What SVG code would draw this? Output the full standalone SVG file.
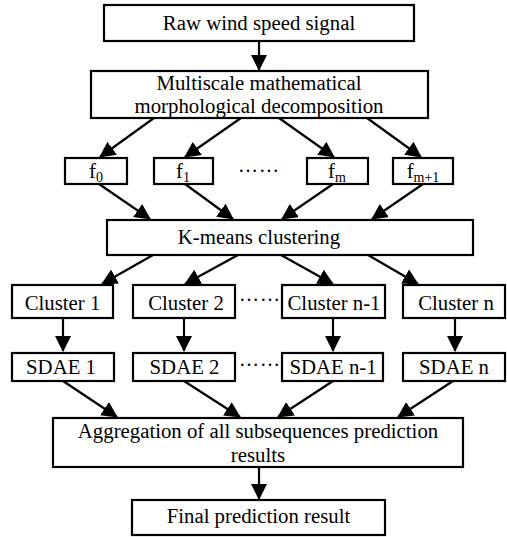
<svg xmlns="http://www.w3.org/2000/svg" width="507" height="537" viewBox="0 0 507 537">
  <style>
    .box { fill: #fff; stroke: #000; stroke-width: 2.2; }
    .lbl { font-family: "Liberation Serif", "Times New Roman", serif; font-size: 20.8px; fill: #000; text-anchor: middle; }
    .sub { font-size: 14px; }
    .dots { font-family: "Liberation Serif", serif; font-size: 20px; fill: #000; letter-spacing: 1px; }
    .edge { stroke: #000; stroke-width: 2.2; fill: none; marker-end: url(#arrow); }
  </style>
  <defs>
    <marker id="arrow" markerUnits="userSpaceOnUse" markerWidth="16" markerHeight="16" viewBox="0 0 16 16" refX="15" refY="8" orient="auto">
      <path d="M0,0 L16,8 L0,16 z" fill="#000"/>
    </marker>
  </defs>

  <rect width="507" height="537" fill="#fff"/>

  <g id="connectors">
    <line class="edge" x1="259" y1="41" x2="259" y2="70"/>
    <line class="edge" x1="154" y1="118" x2="100" y2="157"/>
    <line class="edge" x1="241" y1="118" x2="185" y2="157"/>
    <line class="edge" x1="279" y1="118" x2="334" y2="157"/>
    <line class="edge" x1="367" y1="118" x2="421" y2="157"/>
    <line class="edge" x1="99" y1="184" x2="150" y2="219"/>
    <line class="edge" x1="185" y1="184" x2="233" y2="219"/>
    <line class="edge" x1="333" y1="184" x2="282" y2="219"/>
    <line class="edge" x1="423" y1="184" x2="372" y2="219"/>
    <line class="edge" x1="153" y1="255" x2="102" y2="284"/>
    <line class="edge" x1="238" y1="255" x2="185" y2="284"/>
    <line class="edge" x1="281" y1="255" x2="333" y2="284"/>
    <line class="edge" x1="368" y1="255" x2="418" y2="284"/>
    <line class="edge" x1="63" y1="318" x2="63" y2="351"/>
    <line class="edge" x1="184" y1="318" x2="184" y2="351"/>
    <line class="edge" x1="333" y1="318" x2="333" y2="351"/>
    <line class="edge" x1="455" y1="318" x2="455" y2="351"/>
    <line class="edge" x1="63" y1="381" x2="117" y2="417"/>
    <line class="edge" x1="184" y1="381" x2="240" y2="417"/>
    <line class="edge" x1="333" y1="381" x2="278" y2="417"/>
    <line class="edge" x1="453" y1="381" x2="398" y2="417"/>
    <line class="edge" x1="259" y1="467" x2="259" y2="499"/>
  </g>

  <g id="raw">
    <rect class="box" x="104" y="5" width="310" height="36"/>
    <text class="lbl" x="259" y="30">Raw wind speed signal</text>
  </g>

  <g id="decomposition">
    <rect class="box" x="91" y="71" width="337" height="47"/>
    <text class="lbl" x="259" y="90">Multiscale mathematical</text>
    <text class="lbl" x="259" y="113">morphological decomposition</text>
  </g>

  <g id="f0">
    <rect class="box" x="65" y="158" width="62" height="26"/>
    <text class="lbl" x="96" y="178">f<tspan class="sub" dy="4">0</tspan></text>
  </g>
  <g id="f1">
    <rect class="box" x="154" y="158" width="59" height="26"/>
    <text class="lbl" x="183" y="178">f<tspan class="sub" dy="4">1</tspan></text>
  </g>
  <text class="dots" x="238" y="172">……</text>
  <g id="fm">
    <rect class="box" x="307" y="158" width="61" height="26"/>
    <text class="lbl" x="337" y="178">f<tspan class="sub" dy="4">m</tspan></text>
  </g>
  <g id="fm1">
    <rect class="box" x="393" y="158" width="60" height="26"/>
    <text class="lbl" x="423" y="178">f<tspan class="sub" dy="4">m+1</tspan></text>
  </g>

  <g id="kmeans">
    <rect class="box" x="107" y="220" width="366" height="35"/>
    <text class="lbl" x="259" y="244">K-means clustering</text>
  </g>

  <g id="cluster1">
    <rect class="box" x="12" y="285" width="101" height="33"/>
    <text class="lbl" x="62.5" y="310">Cluster 1</text>
  </g>
  <g id="cluster2">
    <rect class="box" x="133" y="285" width="102" height="33"/>
    <text class="lbl" x="186" y="310">Cluster 2</text>
  </g>
  <text class="dots" x="239" y="301">……</text>
  <g id="clusterN1">
    <rect class="box" x="282" y="285" width="103" height="33"/>
    <text class="lbl" x="334" y="310">Cluster n-1</text>
  </g>
  <g id="clusterN">
    <rect class="box" x="403" y="285" width="102" height="33"/>
    <text class="lbl" x="456" y="310">Cluster n</text>
  </g>

  <g id="sdae1">
    <rect class="box" x="12" y="353" width="102" height="28"/>
    <text class="lbl" x="61" y="374">SDAE 1</text>
  </g>
  <g id="sdae2">
    <rect class="box" x="133" y="353" width="102" height="28"/>
    <text class="lbl" x="184.5" y="374">SDAE 2</text>
  </g>
  <text class="dots" x="239" y="366">……</text>
  <g id="sdaeN1">
    <rect class="box" x="282" y="353" width="101" height="28"/>
    <text class="lbl" x="333" y="374">SDAE n-1</text>
  </g>
  <g id="sdaeN">
    <rect class="box" x="403" y="353" width="102" height="28"/>
    <text class="lbl" x="454" y="374">SDAE n</text>
  </g>

  <g id="aggregation">
    <rect class="box" x="53" y="418" width="410" height="49"/>
    <text class="lbl" x="258" y="438">Aggregation of all subsequences prediction</text>
    <text class="lbl" x="258" y="462">results</text>
  </g>

  <g id="final">
    <rect class="box" x="132" y="500" width="253" height="35"/>
    <text class="lbl" x="258.5" y="523">Final prediction result</text>
  </g>
</svg>
